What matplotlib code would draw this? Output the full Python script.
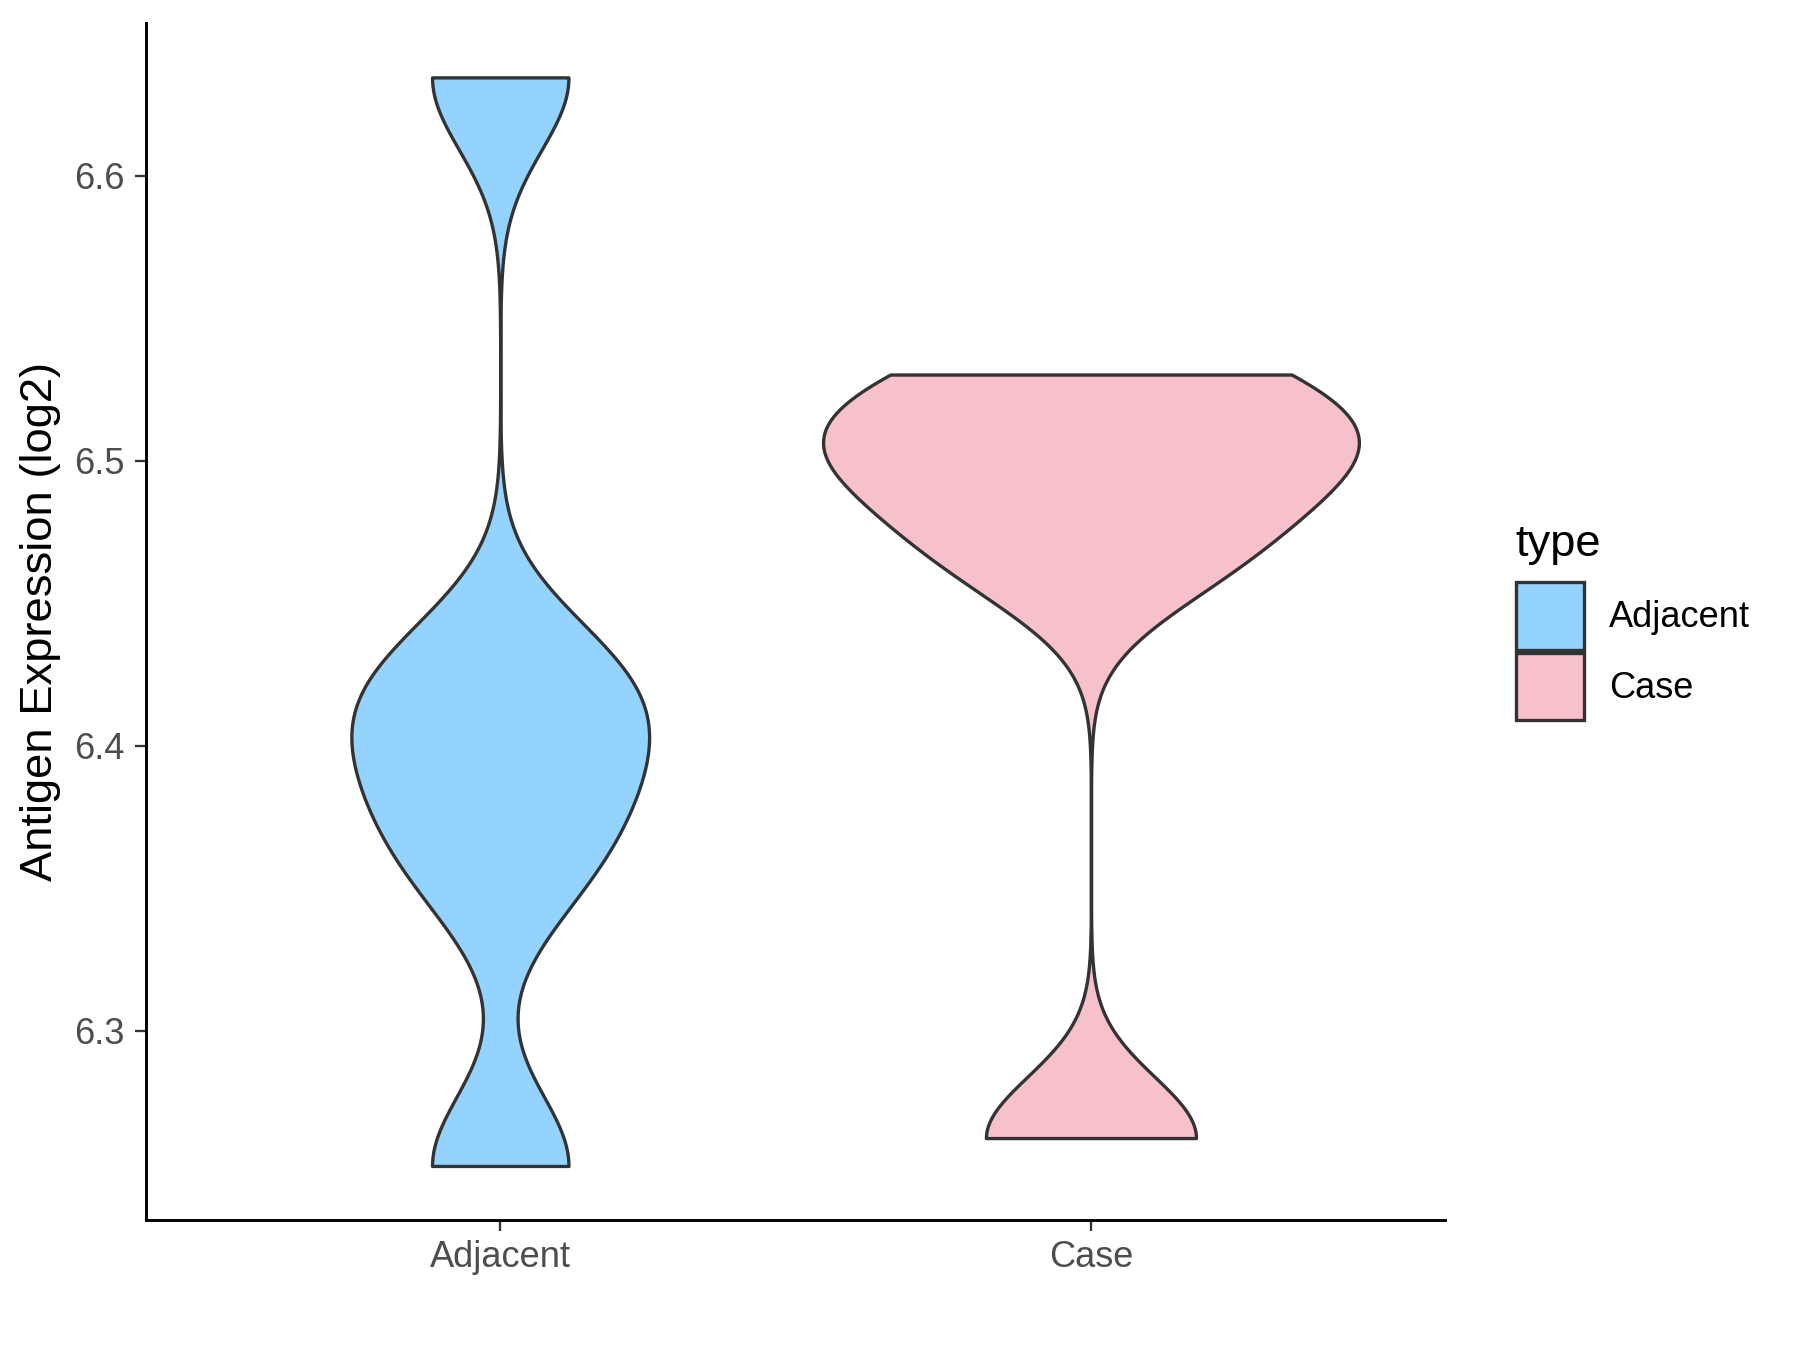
import numpy as np
import matplotlib.pyplot as plt
from matplotlib.patches import Patch

plt.rcParams['font.family'] = ['Liberation Sans', 'DejaVu Sans']

# values (log2 antigen expression)
groups = ['Adjacent', 'Case']
adjacent = [6.2525, 6.2525, 6.35, 6.366, 6.384, 6.398, 6.412, 6.423, 6.433,
            6.6346, 6.6346]
case = [6.2623, 6.465, 6.495, 6.510, 6.5303]
bandwidths = [0.0254, 0.0215]
max_widths = [0.504, 0.907]
colors = ['#94D3FE', '#F7C1CC']
yticks = [6.3, 6.4, 6.5, 6.6]

fig = plt.figure(figsize=(12, 9), dpi=150)
ax = fig.add_axes([0.081, 0.096, 0.722, 0.887])

for i, (vals, bw, w, c) in enumerate(zip([adjacent, case], bandwidths, max_widths, colors)):
    vals = np.array(vals)
    parts = ax.violinplot(vals, positions=[i + 1], widths=w, points=400,
                          showextrema=False, bw_method=bw / np.std(vals, ddof=1))
    for b in parts['bodies']:
        b.set_facecolor(c)
        b.set_edgecolor('#333333')
        b.set_linewidth(1.6)
        b.set_alpha(1)

# ggplot style expansion
allv = adjacent + case
lo, hi = min(allv), max(allv)
pad = 0.05 * (hi - lo)
ax.set_ylim(lo - pad, hi + pad)
ax.set_xlim(0.4, 2.6)

ax.set_xticks([1, 2])
ax.set_xticklabels(groups)
ax.set_yticks(yticks)
ax.set_yticklabels([f'{t:.1f}' for t in yticks])

for s in ['top', 'right']:
    ax.spines[s].set_visible(False)
for s in ['left', 'bottom']:
    ax.spines[s].set_linewidth(1.4)
    ax.spines[s].set_color('black')

ax.tick_params(axis='both', length=5.3, width=1.1, color='#333333',
               labelsize=17.4, labelcolor='#4D4D4D')
ax.tick_params(axis='y', pad=4.8)
ax.tick_params(axis='x', pad=4)
ax.set_ylabel('Antigen Expression (log2)', fontsize=21.8, labelpad=6.6)

handles = [Patch(facecolor=c, edgecolor='#333333', linewidth=1.6) for c in colors]
leg = fig.legend(handles, groups, title='type', loc='center left',
                 bbox_to_anchor=(0.832, 0.539), frameon=False, fontsize=17.4,
                 title_fontsize=21.8, handlelength=1.88, handleheight=2.5,
                 labelspacing=0.08, handletextpad=0.7, borderpad=0,
                 alignment='left')
leg._legend_box.sep = 8  # more room under the title

fig.savefig('out.png', dpi=150)
